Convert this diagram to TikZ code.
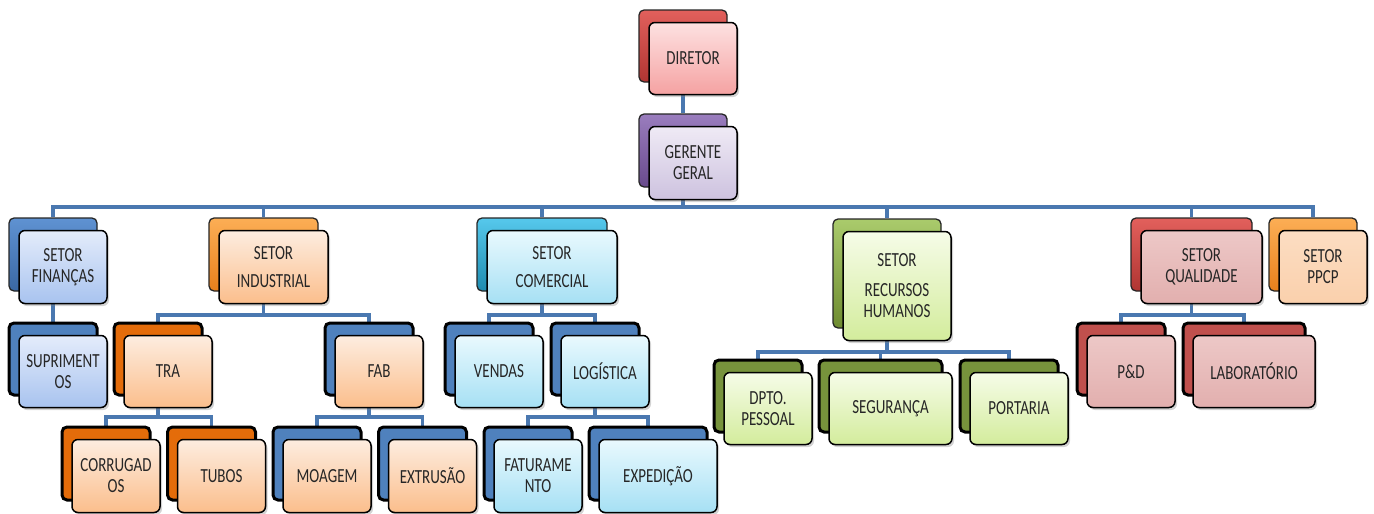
\documentclass[tikz,border=0pt]{standalone}
\usepackage{fontspec}
\setmainfont{Carlito}[FakeStretch=0.75]
\usetikzlibrary{shadows}

% connector and text colours
\definecolor{linkblue}{HTML}{4A78B0}
\definecolor{txt}{HTML}{262626}
% darker "card behind" colours
\definecolor{dkblue}{HTML}{4F81BD}
\definecolor{dkorange}{HTML}{E46C0A}
\definecolor{dkolive}{HTML}{77933C}
\definecolor{dkred}{HTML}{C0504D}

\pgfdeclarelayer{bg}
\pgfsetlayers{bg,main}

\tikzset{
  conn/.style={draw=linkblue, line width=3.5pt, line join=miter},
  backtop/.style n args={2}{rounded corners=5pt, top color=#1, bottom color=#2,
    draw=black!85, line width=1.3pt},
  backlow/.style={rounded corners=5pt, fill=#1, draw=black, line width=3pt},
  front/.style n args={2}{rounded corners=6pt, top color=#1, bottom color=#2,
    draw=black, line width=1.5pt, align=center, text=txt,
    font=\fontsize{20}{21}\selectfont,
    drop shadow={shadow xshift=2pt, shadow yshift=-2.5pt, opacity=0.35}},
  % front fills
  fpink/.style={front={FDE1E1}{F5A2A2}},
  flav/.style={front={EFEAF5}{CDC2DF}},
  fblue/.style={front={E4ECFB}{A8C3EF}},
  fpeach/.style={front={FDEDE0}{FBBE8C}},
  fcyan/.style={front={E9F9FE}{A6E0F4}},
  fgreen/.style={front={F6FCE8}{D3EC9C}},
  frose/.style={front={EDC8C7}{E2AFAE}},
  fppcp/.style={front={FCDDC2}{FAD0AC}},
}
% back colours given as HTML codes need defining
\definecolor{FDE1E1}{HTML}{FDE1E1}\definecolor{F5A2A2}{HTML}{F5A2A2}
\definecolor{EFEAF5}{HTML}{EFEAF5}\definecolor{CDC2DF}{HTML}{CDC2DF}
\definecolor{E4ECFB}{HTML}{E4ECFB}\definecolor{A8C3EF}{HTML}{A8C3EF}
\definecolor{FDEDE0}{HTML}{FDEDE0}\definecolor{FBBE8C}{HTML}{FBBE8C}
\definecolor{E9F9FE}{HTML}{E9F9FE}\definecolor{A6E0F4}{HTML}{A6E0F4}
\definecolor{F6FCE8}{HTML}{F6FCE8}\definecolor{D3EC9C}{HTML}{D3EC9C}
\definecolor{EDC8C7}{HTML}{EDC8C7}\definecolor{E2AFAE}{HTML}{E2AFAE}
\definecolor{FCDDC2}{HTML}{FCDDC2}\definecolor{FAD0AC}{HTML}{FAD0AC}
\definecolor{redT}{HTML}{E2605C}\definecolor{redB}{HTML}{B03532}
\definecolor{purT}{HTML}{9A7DBE}\definecolor{purB}{HTML}{684A8C}
\definecolor{bluT}{HTML}{5F92D2}\definecolor{bluB}{HTML}{3A68A3}
\definecolor{oraT}{HTML}{FCAE55}\definecolor{oraB}{HTML}{E8801C}
\definecolor{cyaT}{HTML}{56C8EC}\definecolor{cyaB}{HTML}{1E8CB0}
\definecolor{grnT}{HTML}{AACB6C}\definecolor{grnB}{HTML}{6E8B30}

% back card (named) plus the front card carrying the label
\newcommand\orgnode[8]{%
  \node[#6, minimum width=#4, minimum height=#5] (#1) at (#2,#3) {};
  \node[#7, minimum width=#4, minimum height=#5] (#1-f)
    at ([shift={(10,12.5)}]#1.center) {#8};
}

\begin{document}
\begin{tikzpicture}[x=1pt, y=-1pt]
\useasboundingbox (0,0) rectangle (1374,514);

% top of the chart
\orgnode{dir}{683}{46}{88}{72}{backtop={redT}{redB}}{fpink}{DIRETOR}
\orgnode{ger}{683}{150.5}{88}{73}{backtop={purT}{purB}}{flav}{GERENTE\\GERAL}

% sectors
\orgnode{fin}{53}{254.5}{88}{73}{backtop={bluT}{bluB}}{fblue}{SETOR\\FINANÇAS}
\orgnode{ind}{263.5}{254.5}{109}{73}{backtop={oraT}{oraB}}{fpeach}{SETOR\\[7pt]INDUSTRIAL}
\orgnode{com}{542}{254.5}{130}{73}{backtop={cyaT}{cyaB}}{fcyan}{SETOR\\[7pt]COMERCIAL}
\orgnode{rh}{887}{273.5}{108}{109}{backtop={grnT}{grnB}}{fgreen}{SETOR\\[9pt]RECURSOS\\HUMANOS}
\orgnode{qua}{1191.5}{254.5}{121}{73}{backtop={redT}{redB}}{frose}{SETOR\\QUALIDADE}
\orgnode{ppc}{1313}{254.5}{88}{73}{backtop={oraT}{oraB}}{fppcp}{SETOR\\PPCP}

% third level
\orgnode{sup}{53}{359}{88}{72}{backlow=dkblue}{fblue}{SUPRIMENT\\OS}
\orgnode{tra}{158}{359}{88}{72}{backlow=dkorange}{fpeach}{TRA}
\orgnode{fab}{369}{359}{88}{72}{backlow=dkblue}{fpeach}{FAB}
\orgnode{ven}{489}{359}{88}{72}{backlow=dkblue}{fcyan}{VENDAS}
\orgnode{log}{595}{359}{88}{72}{backlow=dkblue}{fcyan}{LOGÍSTICA}
\orgnode{pd}{1121}{359}{88}{72}{backlow=dkred}{frose}{P\&D}
\orgnode{lab}{1244}{359}{122}{72}{backlow=dkred}{frose}{LABORATÓRIO}
\orgnode{dpt}{758}{396}{88}{72}{backlow=dkolive}{fgreen}{DPTO.\\PESSOAL}
\orgnode{seg}{880.5}{396}{123}{72}{backlow=dkolive}{fgreen}{SEGURANÇA}
\orgnode{por}{1009}{396}{98}{72}{backlow=dkolive}{fgreen}{PORTARIA}

% fourth level
\orgnode{cor}{106}{463.5}{88}{73}{backlow=dkorange}{fpeach}{CORRUGAD\\OS}
\orgnode{tub}{211.5}{463.5}{88}{73}{backlow=dkorange}{fpeach}{TUBOS}
\orgnode{moa}{317}{463.5}{88}{73}{backlow=dkblue}{fpeach}{MOAGEM}
\orgnode{ext}{422.5}{463.5}{88}{73}{backlow=dkblue}{fpeach}{EXTRUSÃO}
\orgnode{fat}{528}{463.5}{88}{73}{backlow=dkblue}{fcyan}{FATURAME\\NTO}
\orgnode{exp}{648}{463.5}{118}{73}{backlow=dkblue}{fcyan}{EXPEDIÇÃO}

% bus heights
\coordinate (busA) at (0,207);
\coordinate (busB) at (0,315);
\coordinate (busC) at (0,352);
\coordinate (busD) at (0,417);

\begin{pgfonlayer}{bg}
  \draw[conn] (dir.south) -- (ger.north);
  \foreach \c in {fin,ind,com,rh,qua,ppc}
    \draw[conn] (ger.south) -- (ger.south |- busA) -| (\c.north);
  \draw[conn] (fin.south) -- (sup.north);
  \foreach \c in {tra,fab}
    \draw[conn] (ind.south) -- (ind.south |- busB) -| (\c.north);
  \foreach \c in {ven,log}
    \draw[conn] (com.south) -- (com.south |- busB) -| (\c.north);
  \foreach \c in {pd,lab}
    \draw[conn] (qua.south) -- (qua.south |- busB) -| (\c.north);
  \foreach \c in {dpt,seg,por}
    \draw[conn] (rh.south) -- (rh.south |- busC) -| (\c.north);
  \foreach \c in {cor,tub}
    \draw[conn] (tra.south) -- (tra.south |- busD) -| (\c.north);
  \foreach \c in {moa,ext}
    \draw[conn] (fab.south) -- (fab.south |- busD) -| (\c.north);
  \foreach \c in {fat,exp}
    \draw[conn] (log.south) -- (log.south |- busD) -| (\c.north);
\end{pgfonlayer}
\end{tikzpicture}
\end{document}
